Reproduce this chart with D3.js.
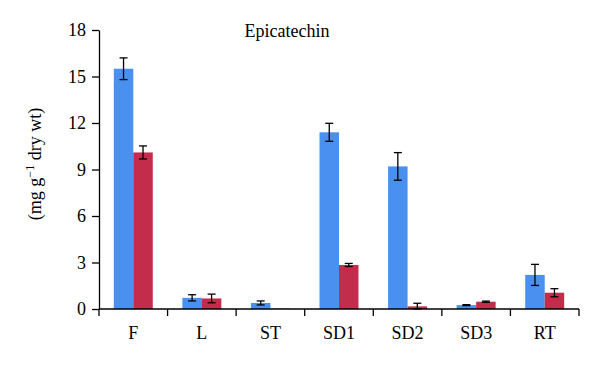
<!DOCTYPE html>
<html>
<head>
<meta charset="utf-8">
<script src="https://cdn.jsdelivr.net/npm/d3@7"></script>
<style>
  body { margin: 0; background: #fff; }
  svg text { font-family: "Liberation Serif", "Times New Roman", serif !important; }
</style>
</head>
<body>
<div id="viz"></div>
<script>
// categories and the two series (means and error)
var categories = ["F", "L", "ST", "SD1", "SD2", "SD3", "RT"];
var blueValues = [15.5, 0.72, 0.39, 11.4, 9.2, 0.25, 2.2];
var blueErrors = [0.7, 0.2, 0.13, 0.58, 0.89, 0.03, 0.68];
var redValues = [10.1, 0.68, 0.02, 2.84, 0.17, 0.47, 1.05];
var redErrors = [0.42, 0.28, 0, 0.1, 0.2, 0.04, 0.26];
var yTicks = [0, 3, 6, 9, 12, 15, 18];

var width = 600, height = 365;
var margin = {top: 30, left: 99, right: 21, bottom: 56};
var serif = '"Liberation Serif", "Times New Roman", serif';

var svg = d3.select("#viz").append("svg")
  .attr("width", width)
  .attr("height", height)
  .attr("font-family", serif);

var x = d3.scaleBand()
  .domain(categories)
  .range([margin.left, width - margin.right])
  .paddingInner(0)
  .paddingOuter(0);

var inner = d3.scaleBand()
  .domain(["blue", "red"])
  .range([0, x.bandwidth()])
  .paddingInner(0)
  .paddingOuter(0.76);

var y = d3.scaleLinear()
  .domain([0, 18])
  .range([height - margin.bottom, margin.top]);

var colors = {blue: "#4a90f0", red: "#c42c4b"};

var data = [];
categories.forEach(function (c, i) {
  data.push({cat: c, key: "blue", value: blueValues[i], err: blueErrors[i]});
  data.push({cat: c, key: "red", value: redValues[i], err: redErrors[i]});
});

// bars
svg.append("g").selectAll("rect")
  .data(data)
  .enter().append("rect")
  .attr("x", function (d) { return x(d.cat) + inner(d.key); })
  .attr("width", inner.bandwidth())
  .attr("y", function (d) { return y(d.value); })
  .attr("height", function (d) { return y(0) - y(d.value); })
  .style("fill", function (d) { return colors[d.key]; });

// error bars
var eb = svg.append("g").selectAll("g")
  .data(data.filter(function (d) { return d.err > 0; }))
  .enter().append("g")
  .attr("transform", function (d) {
    return "translate(" + (x(d.cat) + inner(d.key) + inner.bandwidth() / 2) + ",0)";
  });
eb.append("line")
  .attr("y1", function (d) { return y(d.value + d.err); })
  .attr("y2", function (d) { return y(Math.max(0, d.value - d.err)); })
  .style("stroke", "#000").style("stroke-width", 1.3);
eb.append("line")
  .attr("x1", -4).attr("x2", 4)
  .attr("y1", function (d) { return y(d.value + d.err); })
  .attr("y2", function (d) { return y(d.value + d.err); })
  .style("stroke", "#000").style("stroke-width", 1.3);
eb.append("line")
  .attr("x1", -4).attr("x2", 4)
  .attr("y1", function (d) { return y(Math.max(0, d.value - d.err)); })
  .attr("y2", function (d) { return y(Math.max(0, d.value - d.err)); })
  .style("stroke", "#000").style("stroke-width", 1.3);

// y axis
var yAxis = svg.append("g")
  .attr("transform", "translate(" + margin.left + ",0)")
  .call(d3.axisLeft(y).tickValues(yTicks).tickSize(7).tickSizeOuter(0).tickPadding(6));
yAxis.attr("font-family", serif).attr("font-size", 18);
yAxis.selectAll("text").style("fill", "#000");
yAxis.selectAll("line, path").style("stroke", "#000").style("stroke-width", 1.3);

// x axis, ticks sit between categories
var xAxis = svg.append("g")
  .attr("transform", "translate(0," + y(0) + ")");
xAxis.append("line")
  .attr("x1", margin.left).attr("x2", width - margin.right)
  .style("stroke", "#000").style("stroke-width", 1.3);
var bounds = categories.map(function (c) { return x(c); }).concat([x(categories[6]) + x.bandwidth()]);
xAxis.selectAll("line.tk")
  .data(bounds)
  .enter().append("line")
  .attr("class", "tk")
  .attr("x1", function (d) { return d; }).attr("x2", function (d) { return d; })
  .attr("y1", 0).attr("y2", 7)
  .style("stroke", "#000").style("stroke-width", 1.3);
xAxis.selectAll("text")
  .data(categories)
  .enter().append("text")
  .attr("x", function (d) { return x(d) + x.bandwidth() / 2; })
  .attr("y", 30)
  .attr("text-anchor", "middle")
  .style("font-size", "18px")
  .text(function (d) { return d; });

// title
svg.append("text")
  .attr("x", 287).attr("y", 37)
  .attr("text-anchor", "middle")
  .style("font-size", "18px")
  .text("Epicatechin");

// y label
var yl = svg.append("text")
  .attr("transform", "translate(41,164) rotate(-90)")
  .attr("text-anchor", "middle")
  .style("font-size", "18px");
yl.append("tspan").text("(mg g");
yl.append("tspan").attr("dy", -7).style("font-size", "12px").text("\u22121");
yl.append("tspan").attr("dy", 7).text(" dry wt)");
</script>
</body>
</html>
